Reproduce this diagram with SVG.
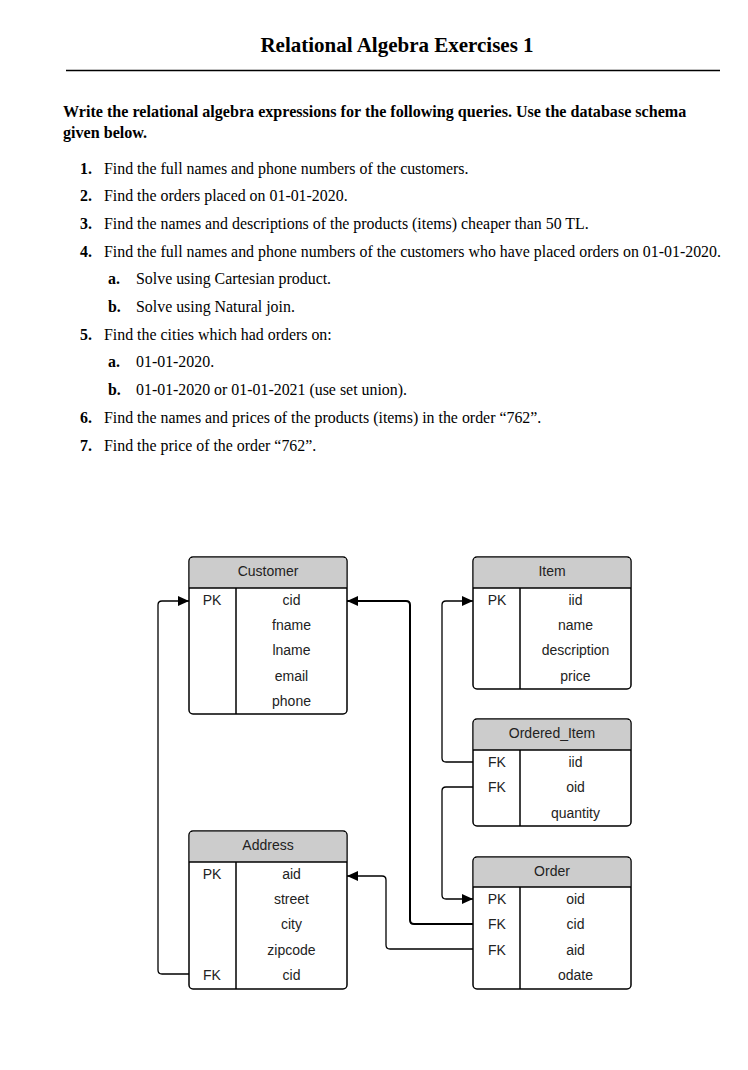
<svg xmlns="http://www.w3.org/2000/svg" width="748" height="1070" viewBox="0 0 748 1070">
<defs>
<style>
.title{font-family:"Liberation Serif","Times New Roman",serif;font-weight:bold;font-size:21px;fill:#000}
.para{font-family:"Liberation Serif","Times New Roman",serif;font-weight:bold;font-size:16.1px;fill:#000}
.li{font-family:"Liberation Serif","Times New Roman",serif;font-size:15.9px;fill:#000}
.num{font-family:"Liberation Serif","Times New Roman",serif;font-weight:bold;font-size:15.9px;fill:#000}
.box{fill:#fff;stroke:#000;stroke-width:1.5}
.hdr{fill:#cccccc;stroke:none}
.ln{stroke:#000;stroke-width:1.5;fill:none}
.t{font-family:"Liberation Sans",Arial,sans-serif;font-size:14px;fill:#222;text-anchor:middle}
.conn{fill:none;stroke:#000;stroke-width:1.3}
.thick{stroke-width:2}
</style>
<marker id="arr" markerUnits="userSpaceOnUse" markerWidth="12" markerHeight="10" refX="11" refY="5" orient="auto">
<path d="M0,0 L11,5 L0,10 Z" fill="#000"/>
</marker>
</defs>

<text class="title" x="397" y="52" text-anchor="middle">Relational Algebra Exercises 1</text>
<line x1="66" y1="70.5" x2="720" y2="70.5" stroke="#000" stroke-width="1.5"/>

<text class="para" x="63" y="117">Write the relational algebra expressions for the following queries. Use the database schema</text>
<text class="para" x="63" y="138">given below.</text>

<g id="questions">
<text class="num" x="80" y="173.5">1.</text><text class="li" x="104" y="173.5">Find the full names and phone numbers of the customers.</text>
<text class="num" x="80" y="201.2">2.</text><text class="li" x="104" y="201.2">Find the orders placed on 01-01-2020.</text>
<text class="num" x="80" y="228.9">3.</text><text class="li" x="104" y="228.9">Find the names and descriptions of the products (items) cheaper than 50 TL.</text>
<text class="num" x="80" y="256.6">4.</text><text class="li" x="104" y="256.6">Find the full names and phone numbers of the customers who have placed orders on 01-01-2020.</text>
<text class="num" x="108" y="284.3">a.</text><text class="li" x="136" y="284.3">Solve using Cartesian product.</text>
<text class="num" x="108" y="312">b.</text><text class="li" x="136" y="312">Solve using Natural join.</text>
<text class="num" x="80" y="339.7">5.</text><text class="li" x="104" y="339.7">Find the cities which had orders on:</text>
<text class="num" x="108" y="367.4">a.</text><text class="li" x="136" y="367.4">01-01-2020.</text>
<text class="num" x="108" y="395.1">b.</text><text class="li" x="136" y="395.1">01-01-2020 or 01-01-2021 (use set union).</text>
<text class="num" x="80" y="422.8">6.</text><text class="li" x="104" y="422.8">Find the names and prices of the products (items) in the order “762”.</text>
<text class="num" x="80" y="450.5">7.</text><text class="li" x="104" y="450.5">Find the price of the order “762”.</text>
</g>

<g id="connectors">
<path class="conn" d="M189,974 H162 Q158,974 158,970 V605 Q158,601 162,601 H189" marker-end="url(#arr)"/>
<path class="conn thick" d="M473,924 H414 Q410,924 410,920 V605 Q410,601 406,601 H347" marker-end="url(#arr)"/>
<path class="conn" d="M473,762 H446 Q442,762 442,758 V605 Q442,601 446,601 H473" marker-end="url(#arr)"/>
<path class="conn" d="M473,787 H446 Q442,787 442,791 V895 Q442,899 446,899 H473" marker-end="url(#arr)"/>
<path class="conn" d="M473,949 H390 Q386,949 386,945 V880 Q386,876 382,876 H347" marker-end="url(#arr)"/>
</g>

<g id="customer">
<rect class="box" x="189" y="557" width="158" height="157" rx="4"/>
<path class="hdr" d="M193,557.75 H343 Q346.25,557.75 346.25,561 V588 H189.75 V561 Q189.75,557.75 193,557.75 Z"/>
<line class="ln" x1="189" y1="588" x2="347" y2="588"/>
<line class="ln" x1="236" y1="588" x2="236" y2="714"/>
<text class="t" x="268" y="575.5">Customer</text>
<text class="t" x="212" y="604.5">PK</text>
<text class="t" x="291.5" y="604.5">cid</text>
<text class="t" x="291.5" y="629.5">fname</text>
<text class="t" x="291.5" y="654.5">lname</text>
<text class="t" x="291.5" y="680.5">email</text>
<text class="t" x="291.5" y="705.5">phone</text>
</g>

<g id="item">
<rect class="box" x="473" y="557" width="158" height="132" rx="4"/>
<path class="hdr" d="M477,557.75 H627 Q630.25,557.75 630.25,561 V588 H473.75 V561 Q473.75,557.75 477,557.75 Z"/>
<line class="ln" x1="473" y1="588" x2="631" y2="588"/>
<line class="ln" x1="520" y1="588" x2="520" y2="689"/>
<text class="t" x="552" y="575.5">Item</text>
<text class="t" x="497" y="604.5">PK</text>
<text class="t" x="575.5" y="604.5">iid</text>
<text class="t" x="575.5" y="629.5">name</text>
<text class="t" x="575.5" y="654.5">description</text>
<text class="t" x="575.5" y="680.5">price</text>
</g>

<g id="ordered_item">
<rect class="box" x="473" y="719" width="158" height="107" rx="4"/>
<path class="hdr" d="M477,719.75 H627 Q630.25,719.75 630.25,723 V750 H473.75 V723 Q473.75,719.75 477,719.75 Z"/>
<line class="ln" x1="473" y1="750" x2="631" y2="750"/>
<line class="ln" x1="520" y1="750" x2="520" y2="826"/>
<text class="t" x="552" y="737.5">Ordered_Item</text>
<text class="t" x="497" y="766.5">FK</text>
<text class="t" x="575.5" y="766.5">iid</text>
<text class="t" x="497" y="791.5">FK</text>
<text class="t" x="575.5" y="791.5">oid</text>
<text class="t" x="575.5" y="817.5">quantity</text>
</g>

<g id="address">
<rect class="box" x="189" y="831" width="158" height="158" rx="4"/>
<path class="hdr" d="M193,831.75 H343 Q346.25,831.75 346.25,835 V862 H189.75 V835 Q189.75,831.75 193,831.75 Z"/>
<line class="ln" x1="189" y1="862" x2="347" y2="862"/>
<line class="ln" x1="236" y1="862" x2="236" y2="989"/>
<text class="t" x="268" y="849.5">Address</text>
<text class="t" x="212" y="878.5">PK</text>
<text class="t" x="291.5" y="878.5">aid</text>
<text class="t" x="291.5" y="903.5">street</text>
<text class="t" x="291.5" y="928.5">city</text>
<text class="t" x="291.5" y="954.5">zipcode</text>
<text class="t" x="212" y="979.5">FK</text>
<text class="t" x="291.5" y="979.5">cid</text>
</g>

<g id="order">
<rect class="box" x="473" y="857" width="158" height="132" rx="4"/>
<path class="hdr" d="M477,857.75 H627 Q630.25,857.75 630.25,861 V887 H473.75 V861 Q473.75,857.75 477,857.75 Z"/>
<line class="ln" x1="473" y1="887" x2="631" y2="887"/>
<line class="ln" x1="520" y1="887" x2="520" y2="989"/>
<text class="t" x="552" y="875.5">Order</text>
<text class="t" x="497" y="903.5">PK</text>
<text class="t" x="575.5" y="903.5">oid</text>
<text class="t" x="497" y="928.5">FK</text>
<text class="t" x="575.5" y="928.5">cid</text>
<text class="t" x="497" y="954.5">FK</text>
<text class="t" x="575.5" y="954.5">aid</text>
<text class="t" x="575.5" y="979.5">odate</text>
</g>
</svg>
